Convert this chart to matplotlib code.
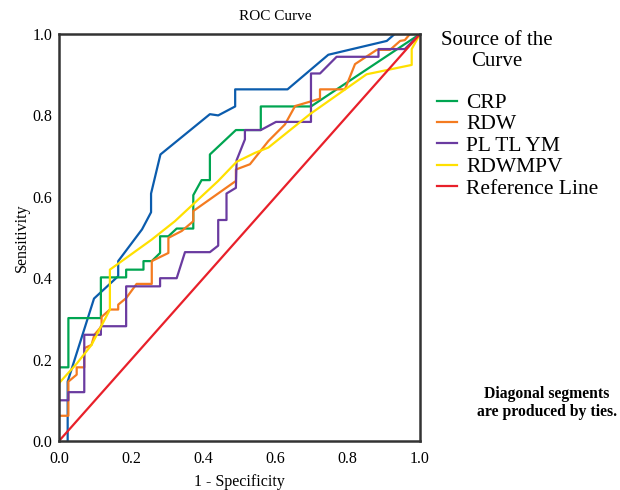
import matplotlib
matplotlib.use("Agg")
import matplotlib.pyplot as plt

plt.rcParams['font.family'] = ['Liberation Serif', 'DejaVu Serif']

# Unlabeled blue curve
blue_x = [0.024, 0.024, 0.097, 0.164, 0.164, 0.23, 0.255, 0.255, 0.281, 0.418, 0.441, 0.488, 0.488, 0.633, 0.746, 0.908, 0.93, 1.0]
blue_y = [0.0, 0.146, 0.35, 0.405, 0.442, 0.52, 0.562, 0.608, 0.704, 0.803, 0.80, 0.822, 0.864, 0.864, 0.949, 0.983, 1.0, 1.0]

crp_x = [0.0, 0.026, 0.026, 0.116, 0.116, 0.186, 0.186, 0.234, 0.234, 0.257, 0.28, 0.28, 0.303, 0.326, 0.372, 0.372, 0.395, 0.418, 0.418, 0.49, 0.559, 0.559, 0.698, 1.0]
crp_y = [0.181, 0.181, 0.302, 0.302, 0.402, 0.402, 0.421, 0.421, 0.442, 0.442, 0.462, 0.503, 0.503, 0.522, 0.522, 0.604, 0.641, 0.641, 0.704, 0.764, 0.764, 0.822, 0.822, 1.0]

rdw_x = [0.0, 0.026, 0.026, 0.049, 0.049, 0.07, 0.07, 0.09, 0.098, 0.118, 0.118, 0.141, 0.164, 0.164, 0.186, 0.215, 0.257, 0.257, 0.303, 0.303, 0.34, 0.372, 0.372, 0.49, 0.49, 0.529, 0.58, 0.626, 0.654, 0.723, 0.723, 0.792, 0.82, 0.88, 0.917, 0.945, 0.958, 0.972, 1.0]
rdw_y = [0.062, 0.062, 0.146, 0.163, 0.181, 0.181, 0.228, 0.236, 0.261, 0.282, 0.305, 0.323, 0.323, 0.335, 0.351, 0.386, 0.386, 0.442, 0.462, 0.499, 0.516, 0.54, 0.565, 0.639, 0.667, 0.68, 0.737, 0.778, 0.823, 0.841, 0.864, 0.864, 0.926, 0.961, 0.961, 0.983, 0.985, 1.0, 1.0]

pl_x = [0.0, 0.026, 0.026, 0.07, 0.07, 0.116, 0.116, 0.186, 0.186, 0.28, 0.28, 0.326, 0.349, 0.418, 0.441, 0.441, 0.464, 0.464, 0.49, 0.492, 0.515, 0.515, 0.559, 0.601, 0.698, 0.698, 0.723, 0.769, 0.885, 0.885, 0.958, 1.0]
pl_y = [0.10, 0.10, 0.12, 0.12, 0.261, 0.261, 0.282, 0.282, 0.38, 0.38, 0.40, 0.40, 0.464, 0.464, 0.48, 0.543, 0.543, 0.608, 0.622, 0.69, 0.741, 0.764, 0.764, 0.784, 0.784, 0.903, 0.903, 0.944, 0.944, 0.963, 0.963, 1.0]

mpv_x = [0.0, 0.049, 0.09, 0.141, 0.141, 0.257, 0.321, 0.441, 0.492, 0.543, 0.58, 0.695, 0.852, 0.977, 0.977, 1.0]
mpv_y = [0.142, 0.19, 0.236, 0.323, 0.421, 0.495, 0.54, 0.639, 0.686, 0.708, 0.721, 0.803, 0.901, 0.924, 0.963, 1.0]

ref_x = [0.0, 1.0]
ref_y = [0.0, 1.0]

ticks = [0.0, 0.2, 0.4, 0.6, 0.8, 1.0]
tick_labels = ["0.0", "0.2", "0.4", "0.6", "0.8", "1.0"]

fig = plt.figure(figsize=(6.2, 4.9), dpi=100)
ax = fig.add_axes([59/620, 1 - 441/490, (420 - 59)/620, (441 - 34)/490])

lw = 1.6
l_blue, = ax.plot(blue_x, blue_y, color='#0B5CAD', lw=lw)
l_crp, = ax.plot(crp_x, crp_y, color='#00A551', lw=lw, label='CRP')
l_rdw, = ax.plot(rdw_x, rdw_y, color='#F47B20', lw=lw, label='RDW')
l_pl, = ax.plot(pl_x, pl_y, color='#6A3BA0', lw=lw, label='PL TL YM')
l_mpv, = ax.plot(mpv_x, mpv_y, color='#FFE000', lw=lw, label='RDWMPV')
l_ref, = ax.plot(ref_x, ref_y, color='#E8202A', lw=lw, label='Reference Line')

ax.set_xlim(0, 1)
ax.set_ylim(0, 1)
ax.set_xticks(ticks)
ax.set_xticklabels(tick_labels)
ax.set_yticks(ticks)
ax.set_yticklabels(tick_labels)
ax.tick_params(length=0, labelsize=11.5)
ax.tick_params(axis='x', pad=7)
ax.tick_params(axis='y', pad=5)
for s in ax.spines.values():
    s.set_linewidth(1.8)
    s.set_color('#333333')

ax.set_xlabel('1 - Specificity', fontsize=11.5, labelpad=5)
ax.set_ylabel('Sensitivity', fontsize=11.5, labelpad=2)

fig.text(275/620, 1 - 17/490, 'ROC Curve', ha='center', va='center', fontsize=11)

fig.text(497/620, 1 - 51/490, 'Source of the\nCurve', ha='center', va='center',
         fontsize=15, linespacing=1.15)

leg = fig.legend(handles=[l_crp, l_rdw, l_pl, l_mpv, l_ref],
                 loc='upper left', bbox_to_anchor=(437/620, 1 - 93/490),
                 frameon=False, fontsize=15.5, handlelength=0.95, handletextpad=0.4,
                 labelspacing=0.06, borderaxespad=0, borderpad=0)

fig.text(617/620, 1 - 403/490, 'Diagonal segments\nare produced by ties.', ha='right', va='center',
         fontsize=11.3, fontweight='bold', linespacing=1.15,
         multialignment='center')

fig.savefig('out.png', dpi=100)
